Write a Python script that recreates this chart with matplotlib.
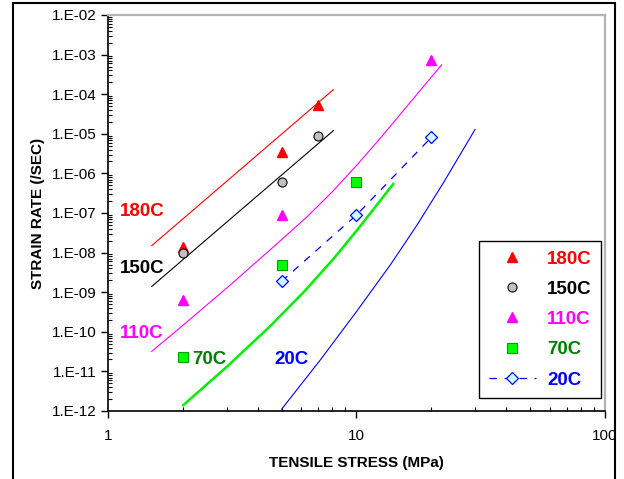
import math
import matplotlib
matplotlib.use("Agg")
import matplotlib.pyplot as plt
from matplotlib.patches import Rectangle
from matplotlib.ticker import LogLocator, FuncFormatter, NullFormatter

plt.rcParams["font.family"] = ["Liberation Sans", "DejaVu Sans"]

# measured points (stress MPa, strain rate 1/s)
x_180 = [2, 5, 7]
y_180 = [1.4e-8, 3.5e-6, 5.4e-5]
x_150 = [2, 5, 7]
y_150 = [1.0e-8, 6.2e-7, 8.7e-6]
x_110 = [2, 5, 20]
y_110 = [6.3e-10, 8.9e-8, 7.2e-4]
x_70 = [2, 5, 10]
y_70 = [2.3e-11, 5.0e-9, 6.2e-7]
x_20 = [5, 10, 20]
y_20 = [1.9e-9, 8.9e-8, 8.1e-6]

# model curves
fit_x_180 = [1.5, 8.07]
fit_y_180 = [1.5e-8, 1.3e-4]
fit_x_150 = [1.5, 8.07]
fit_y_150 = [1.4e-9, 1.2e-5]
fit_x_110 = [1.5, 2.0, 3.1, 4.49, 6.31, 7.94, 10.0, 12.59, 15.85, 22.0]
fit_y_110 = [3.2e-11, 1.45e-10, 1.51e-9, 1.17e-8, 7.9e-8, 3.3e-7, 1.58e-6, 8.3e-6, 4.7e-5, 5.5e-4]
fit_x_70 = [2.01, 3.0, 4.49, 6.17, 8.07, 10.0, 14.06]
fit_y_70 = [1.41e-12, 1.29e-11, 1.38e-10, 1.05e-9, 6.9e-9, 3.55e-8, 5.4e-7]
fit_x_20 = [5.0, 7.13, 10.0, 13.65, 17.46, 22.3, 30.0]
fit_y_20 = [1.12e-12, 1.9e-11, 3.24e-10, 4.8e-9, 4.8e-8, 5.6e-7, 1.29e-5]

dkgreen = "#008000"

fig = plt.figure(figsize=(6.24, 4.79), dpi=100)
ax = fig.add_axes([108 / 624, 68 / 479, 497 / 624, 396 / 479])

# curves
ax.plot(fit_x_180, fit_y_180, color="red", lw=0.8)
ax.plot(fit_x_150, fit_y_150, color="black", lw=0.8)
ax.plot(fit_x_110, fit_y_110, color="magenta", lw=0.8)
ax.plot(fit_x_70, fit_y_70, color="#00ee00", lw=1.8)
ax.plot(fit_x_20, fit_y_20, color="blue", lw=0.8)

# data
ax.plot(x_180, y_180, ls="none", marker="^", ms=7, color="red", mec="red", label="180C")
ax.plot(x_150, y_150, ls="none", marker="o", ms=6.5, mfc="#c0c0c0", mec="black", mew=0.8, label="150C")
ax.plot(x_110, y_110, ls="none", marker="^", ms=7, color="magenta", mec="magenta", label="110C")
ax.plot(x_70, y_70, ls="none", marker="s", ms=6.5, mfc="#00ff00", mec="#00a000", mew=0.8, label="70C")
ax.plot(x_20, y_20, ls=(0, (6, 6)), lw=0.9, color="blue", marker="D", ms=6,
        mfc="#ccffff", mec="blue", mew=0.9, label="20C")

# curve labels
lab = dict(fontsize=13.5, fontweight="bold", ha="left", va="center")
ax.text(1.114, 1.07e-7, "180C", color="red", **lab)
ax.text(1.114, 4.0e-9, "150C", color="black", **lab)
ax.text(1.114, 9.1e-11, "110C", color="magenta", **lab)
ax.text(2.18, 1.95e-11, "70C", color=dkgreen, **lab)
ax.text(4.69, 1.95e-11, "20C", color="blue", **lab)

ax.set_xscale("log")
ax.set_yscale("log")
ax.set_xlim(1, 100)
ax.set_ylim(1e-12, 1e-2)

ax.xaxis.set_major_locator(LogLocator(base=10, numticks=10))
ax.xaxis.set_minor_locator(LogLocator(base=10, subs=range(2, 10), numticks=20))
ax.xaxis.set_major_formatter(FuncFormatter(lambda v, p: "%g" % v))
ax.xaxis.set_minor_formatter(NullFormatter())
ax.yaxis.set_major_locator(LogLocator(base=10, numticks=20))
ax.yaxis.set_minor_locator(LogLocator(base=10, subs=range(2, 10), numticks=40))
ax.yaxis.set_major_formatter(FuncFormatter(lambda v, p: "1.E-%02d" % round(-math.log10(v))))
ax.yaxis.set_minor_formatter(NullFormatter())

ax.tick_params(which="major", direction="out", length=5, width=1, labelsize=11, pad=3)
ax.tick_params(axis="x", which="major", pad=8)
ax.tick_params(which="minor", direction="in", length=3, width=0.8)

for s in ["top", "right"]:
    ax.spines[s].set_color("#b4b4b4")
    ax.spines[s].set_linewidth(1.6)
for s in ["left", "bottom"]:
    ax.spines[s].set_linewidth(1.2)

ax.set_xlabel("TENSILE STRESS (MPa)", fontsize=11, fontweight="bold", labelpad=9)
ax.set_ylabel("STRAIN RATE (/SEC)", fontsize=11, fontweight="bold", labelpad=5)

leg = ax.legend(loc="lower right", bbox_to_anchor=(0.992, 0.033), fancybox=False,
                edgecolor="black", framealpha=1, handlelength=2.5, handletextpad=0.6,
                labelspacing=0.7, borderpad=0.5, borderaxespad=0,
                prop={"size": 13.5, "weight": "bold"})
leg.get_frame().set_linewidth(1.0)
for t, c in zip(leg.get_texts(), ["red", "black", "magenta", dkgreen, "blue"]):
    t.set_color(c)

# outer chart border
fig.patches.append(Rectangle((13 / 624, -0.05), 602 / 624, 1.05 - 3 / 479,
                             transform=fig.transFigure, fill=False,
                             edgecolor="black", lw=1.5))

fig.savefig("out.png", dpi=100)
